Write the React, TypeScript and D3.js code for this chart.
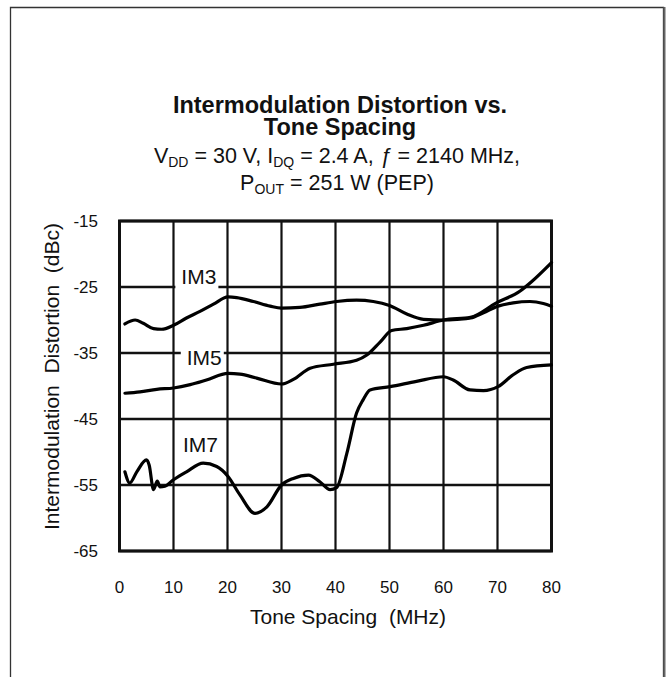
import React, { useRef, useEffect } from "react";
import * as d3 from "d3";

// tone spacing (MHz) and distortion (dBc)
const im3Mhz = [1, 2.9, 4.4, 6.3, 7.8, 10, 12.4, 14.9, 17.4, 20.1, 21.7, 24.8, 27.9, 30, 33.4, 37.1, 40.2, 43.9, 47, 50, 53.2, 56.3, 60, 62.5, 65, 67.4, 70.1, 72.9, 76, 78.5, 80];
const im3Dbc = [-30.6, -30.0, -30.5, -31.3, -31.4, -30.8, -29.7, -28.7, -27.6, -26.5, -26.6, -27.2, -27.9, -28.2, -28.1, -27.6, -27.2, -27.0, -27.2, -27.8, -29.1, -29.9, -30.0, -29.9, -29.7, -28.9, -27.9, -27.4, -27.2, -27.5, -27.9];

const im5Mhz = [1, 3.8, 6.9, 10, 13.1, 16.1, 20.1, 22.3, 25.4, 30, 32.2, 35.3, 39.6, 43.9, 45.8, 48.3, 50.4, 53.2, 56.3, 60, 65, 69.8, 74.2, 76.3, 80];
const im5Dbc = [-41.1, -40.9, -40.5, -40.3, -39.8, -39.1, -38.1, -38.2, -38.8, -39.7, -39.0, -37.3, -36.7, -36.1, -35.3, -33.3, -31.6, -31.3, -30.8, -30.0, -29.6, -27.4, -25.6, -24.2, -21.3];

const im7Mhz = [1, 1.9, 3.2, 5, 5.5, 6.3, 7, 7.5, 8.4, 10, 12.4, 15.5, 18, 20.1, 22.3, 25.1, 27.3, 30, 32.2, 35, 37.1, 39, 40.2, 42.1, 43.9, 45.1, 46.4, 50.1, 55, 60, 61.8, 64.9, 67.4, 70.1, 72.9, 75.4, 80];
const im7Dbc = [-53.0, -54.7, -53.0, -51.2, -52.0, -55.7, -54.4, -55.3, -55.2, -54.2, -53.0, -51.7, -52.2, -53.7, -56.5, -59.3, -58.3, -55.0, -54.0, -53.5, -54.5, -55.7, -55.4, -50.2, -44.1, -42.1, -40.6, -40.1, -39.3, -38.6, -39.1, -40.6, -40.7, -40.1, -38.3, -37.2, -36.8];

const xTicks = [0, 10, 20, 30, 40, 50, 60, 70, 80];
const yTicks = [-15, -25, -35, -45, -55, -65];

// curve labels: name, anchor in data units, whether it breaks the gridline
const labelNames = ["IM3", "IM5", "IM7"];
const labelMhz = [14.7, 15.7, 15.0];
const labelDbc = [-24.6, -36.8, -50.0];
const labelGap = [true, true, false];

const FONT = "'Liberation Sans', Arial, Helvetica, sans-serif";

const zip = (xs: number[], ys: number[]) => xs.map((x, i) => [x, ys[i]] as [number, number]);

export default function App() {
  const ref = useRef<SVGSVGElement>(null);

  useEffect(() => {
    if (!ref.current) return;
    const svg = d3.select(ref.current);
    svg.selectAll("*").remove();

    const W = 666, H = 677;
    const x = d3.scaleLinear().domain([0, 80]).range([119.5, 551.5]);
    const y = d3.scaleLinear().domain([-65, -15]).range([551, 221]);

    svg.append("rect").attr("width", W).attr("height", H).attr("fill", "#fff");

    // outer frame, open at the bottom
    svg.append("path")
      .attr("d", `M10.5,${H + 5} V7.5 H663.5 V${H + 5}`)
      .attr("fill", "none").attr("stroke", "#333").attr("stroke-width", 1.3);
    svg.append("line")
      .attr("x1", 664.5).attr("x2", 664.5).attr("y1", 7).attr("y2", H)
      .attr("stroke", "#666").attr("stroke-width", 2);

    // titles
    const cx = 337;
    const t1 = svg.append("text").attr("x", cx).attr("text-anchor", "middle")
      .attr("font-family", FONT).attr("font-weight", "bold").attr("font-size", 23.5).attr("fill", "#111");
    t1.append("tspan").attr("x", cx + 3).attr("y", 112.5).text("Intermodulation Distortion vs.");
    t1.append("tspan").attr("x", cx + 3).attr("y", 134.5).text("Tone Spacing");

    const sub = svg.append("text").attr("x", cx).attr("y", 162.5).attr("text-anchor", "middle")
      .attr("font-family", FONT).attr("font-size", 21.5).attr("fill", "#111")
      .style("white-space", "pre");
    sub.append("tspan").text("V");
    sub.append("tspan").attr("font-size", 14).attr("dy", 4).text("DD");
    sub.append("tspan").attr("dy", -4).text(" = 30 V, I");
    sub.append("tspan").attr("font-size", 14).attr("dy", 4).text("DQ");
    sub.append("tspan").attr("dy", -4).text(" = 2.4 A, ");
    sub.append("tspan").attr("font-style", "italic").text("ƒ");
    sub.append("tspan").text(" = 2140 MHz,");

    const sub2 = svg.append("text").attr("x", cx).attr("y", 190).attr("text-anchor", "middle")
      .attr("font-family", FONT).attr("font-size", 21.5).attr("fill", "#111")
      .style("white-space", "pre");
    sub2.append("tspan").text("P");
    sub2.append("tspan").attr("font-size", 14).attr("dy", 4).text("OUT");
    sub2.append("tspan").attr("dy", -4).text(" = 251 W (PEP)");

    // grid
    const g = svg.append("g");
    g.selectAll(".vg").data(xTicks).join("line")
      .attr("x1", d => x(d)).attr("x2", d => x(d))
      .attr("y1", y(-15)).attr("y2", y(-65))
      .attr("stroke", "#111").attr("stroke-width", 2.2);
    g.selectAll(".hg").data(yTicks).join("line")
      .attr("x1", x(0)).attr("x2", x(80))
      .attr("y1", d => y(d)).attr("y2", d => y(d))
      .attr("stroke", "#111").attr("stroke-width", 2.6);
    g.append("rect")
      .attr("x", x(0)).attr("y", y(-15))
      .attr("width", x(80) - x(0)).attr("height", y(-65) - y(-15))
      .attr("fill", "none").attr("stroke", "#111").attr("stroke-width", 3);

    // tick labels
    svg.append("g").selectAll("text").data(xTicks).join("text")
      .attr("x", d => x(d)).attr("y", 592.5).attr("text-anchor", "middle")
      .attr("font-family", FONT).attr("font-size", 17).attr("fill", "#111")
      .text(d => String(d));
    svg.append("g").selectAll("text").data(yTicks).join("text")
      .attr("x", 98).attr("y", d => y(d) + 6).attr("text-anchor", "end")
      .attr("font-family", FONT).attr("font-size", 17).attr("fill", "#111")
      .text(d => String(d));

    // axis titles
    svg.append("text").attr("x", 348).attr("y", 624).attr("text-anchor", "middle")
      .attr("font-family", FONT).attr("font-size", 21).attr("fill", "#111")
      .style("white-space", "pre").text("Tone Spacing  (MHz)");
    svg.append("text")
      .attr("transform", "translate(59,376.5) rotate(-90)")
      .attr("text-anchor", "middle")
      .attr("font-family", FONT).attr("font-size", 21).attr("fill", "#111")
      .style("white-space", "pre").text("Intermodulation  Distortion  (dBc)");

    // curve labels
    labelNames.forEach((name, i) => {
      const lg = svg.append("g");
      const bg = lg.append("rect").attr("fill", "#fff");
      const t = lg.append("text")
        .attr("x", x(labelMhz[i])).attr("y", y(labelDbc[i]))
        .attr("text-anchor", "middle")
        .attr("font-family", FONT).attr("font-size", 21).attr("fill", "#111")
        .text(name);
      if (labelGap[i]) {
        const b = (t.node() as SVGTextElement).getBBox();
        bg.attr("x", b.x - 6).attr("y", b.y).attr("width", b.width + 8).attr("height", b.height + 4);
      } else {
        bg.remove();
      }
    });

    // curves
    const line = d3.line<[number, number]>()
      .x(d => x(d[0])).y(d => y(d[1]))
      .curve(d3.curveMonotoneX);
    [zip(im3Mhz, im3Dbc), zip(im5Mhz, im5Dbc), zip(im7Mhz, im7Dbc)].forEach(pts => {
      svg.append("path").attr("d", line(pts))
        .attr("fill", "none").attr("stroke", "#000")
        .attr("stroke-width", 3.2).attr("stroke-linejoin", "round").attr("stroke-linecap", "round");
    });
  }, []);

  return (
    <svg ref={ref} width={666} height={677}
      style={{ position: "absolute", left: 0, top: 0, display: "block" }} />
  );
}
